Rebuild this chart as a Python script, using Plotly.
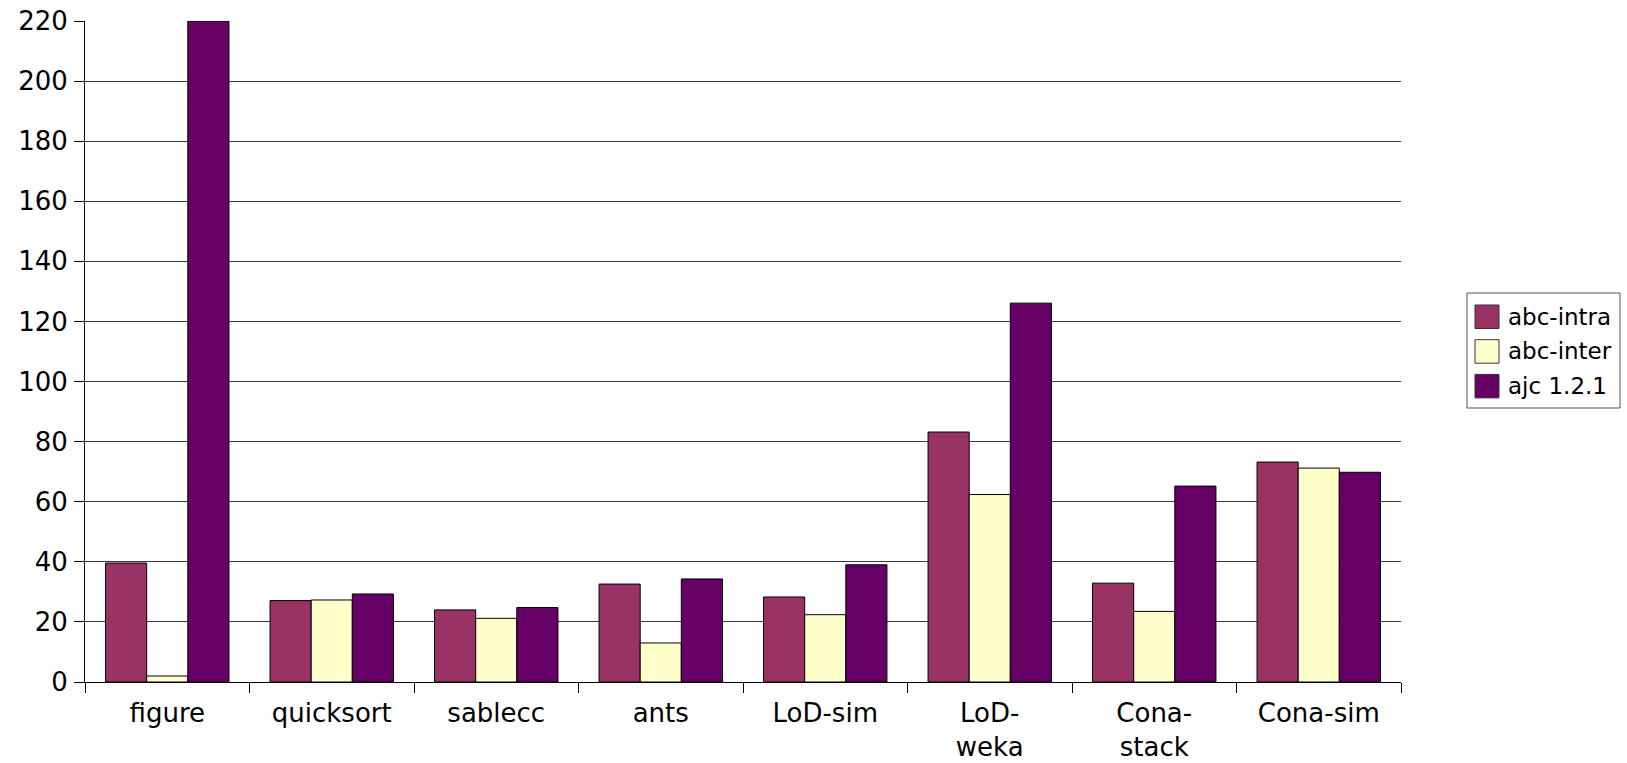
import plotly.graph_objects as go

# Benchmarks and per-compiler values
categories = ["figure", "quicksort", "sablecc", "ants", "LoD-sim",
              "LoD-<br>weka", "Cona-<br>stack", "Cona-sim"]
series_names = ["abc-intra", "abc-inter", "ajc 1.2.1"]
abc_intra = [39.6, 27.1, 24.0, 32.6, 28.3, 83.2, 32.9, 73.2]
abc_inter = [2.0, 27.3, 21.2, 13.0, 22.4, 62.4, 23.5, 71.2]
ajc_121 = [220.0, 29.3, 24.8, 34.3, 39.0, 126.1, 65.2, 69.8]
y_ticks = list(range(0, 221, 20))

colors = ["#993366", "#FFFFCC", "#660066"]
series_values = [abc_intra, abc_inter, ajc_121]

W, H = 1627, 763
M = dict(l=85, r=226, t=21, b=81)
FONT = "DejaVu Sans"

fig = go.Figure()
for name, vals, col in zip(series_names, series_values, colors):
    fig.add_trace(go.Bar(
        x=categories, y=vals, name=name,
        marker=dict(color=col, line=dict(color="#000000", width=1)),
        showlegend=False,
    ))

# Hand-built legend box (pixel positions converted to paper coordinates)
pw = W - M["l"] - M["r"]
ph = H - M["t"] - M["b"]


def px_x(px):
    return (px - M["l"]) / pw


def px_y(py):
    return (H - M["b"] - py) / ph


shapes = [dict(type="rect", xref="paper", yref="paper",
               x0=px_x(1467), x1=px_x(1620), y0=px_y(408), y1=px_y(293),
               line=dict(color="#555555", width=1), fillcolor="white", layer="above")]
annotations = []
row_top = 305
for i, (name, col) in enumerate(zip(series_names, colors)):
    top = row_top + i * 34.7
    shapes.append(dict(type="rect", xref="paper", yref="paper",
                       x0=px_x(1475), x1=px_x(1499), y0=px_y(top + 23.5), y1=px_y(top),
                       line=dict(color="#333333", width=1), fillcolor=col, layer="above"))
    annotations.append(dict(xref="paper", yref="paper", x=px_x(1506), y=px_y(top + 11.5),
                            text=name, showarrow=False, xanchor="left", yanchor="middle",
                            font=dict(family=FONT, size=23, color="#000000")))

fig.update_layout(
    width=W, height=H,
    margin=dict(l=M["l"], r=M["r"], t=M["t"], b=M["b"], pad=0, autoexpand=False),
    paper_bgcolor="white", plot_bgcolor="white",
    barmode="group", bargap=0.25, bargroupgap=0,
    font=dict(family=FONT, size=26, color="#000000"),
    shapes=shapes, annotations=annotations,
    xaxis=dict(
        type="category", automargin=False, showline=True, linecolor="#000000", linewidth=1,
        ticks="outside", tickson="boundaries", ticklen=10, tickcolor="#000000",
        ticklabelstandoff=8,
        tickfont=dict(family=FONT, size=26), showgrid=False,
    ),
    yaxis=dict(
        range=[0, 220], tickvals=y_ticks, automargin=False,
        showline=True, linecolor="#000000", linewidth=1,
        ticks="outside", ticklen=10, tickcolor="#000000", ticklabelstandoff=1,
        showgrid=True, gridcolor="#3a3a3a", gridwidth=1, zeroline=False,
        tickfont=dict(family=FONT, size=26),
    ),
)

fig.write_html("out.html")
